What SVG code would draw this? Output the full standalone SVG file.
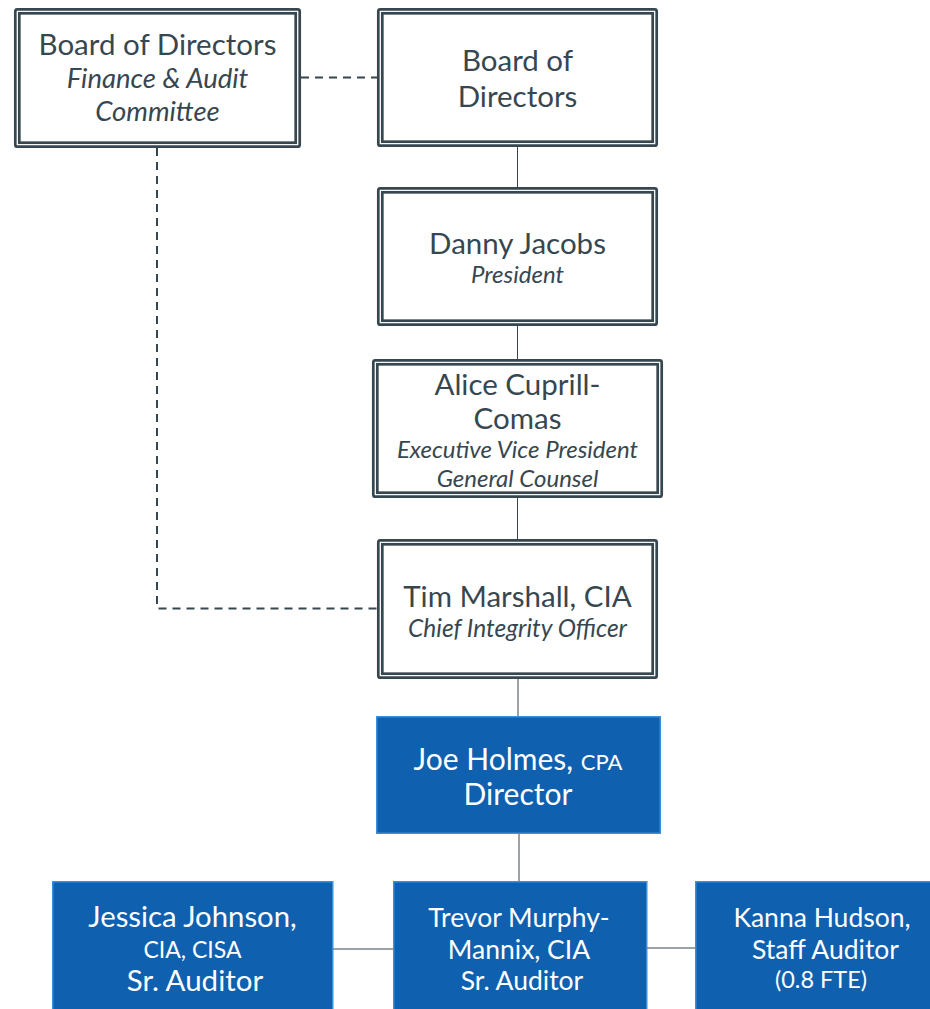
<svg xmlns="http://www.w3.org/2000/svg" width="930" height="1009" viewBox="0 0 930 1009">
<style>
.bo{fill:#fff;stroke:#37474f;stroke-width:2.7}
.bi{fill:none;stroke:#37474f;stroke-width:2.7}
.blue{fill:#1060b0;stroke:#3b8fd9;stroke-width:1.5}
.t{font-family:Lato,"Open Sans","Liberation Sans",sans-serif;fill:#37474f;text-anchor:middle}
.w{font-family:Lato,"Open Sans","Liberation Sans",sans-serif;fill:#fff;text-anchor:middle}
.i{font-style:italic}
.ln{stroke:#37474f;stroke-width:1;fill:none}
.dash{stroke:#37474f;stroke-width:2;stroke-dasharray:8 6;fill:none}
</style>
<g id="connectors">
<path class="dash" d="M301 77.5H377"/>
<path class="dash" d="M157 148V608.5H377"/>
<path class="ln" d="M517.5 147V187M517.5 326V359M517.5 498V539M518 679V716M519 834V881M333 949H393M647 948H695"/>
</g>
<g id="n-audit">
<rect class="bo" x="15.3" y="9.3" width="284.4" height="137.4" rx="2"/>
<rect class="bi" x="19.3" y="13.3" width="276.4" height="129.4"/>
<text class="t" x="157.5" y="55" font-size="29.5">Board of Directors</text>
<text class="t i" x="157.5" y="88" font-size="27.5">Finance &amp; Audit</text>
<text class="t i" x="157.5" y="121" font-size="27.5">Committee</text>
</g>
<g id="n-board">
<rect class="bo" x="378.3" y="9.3" width="278.4" height="136.4" rx="2"/>
<rect class="bi" x="382.3" y="13.3" width="270.4" height="128.4"/>
<text class="t" x="517.5" y="71" font-size="29.5">Board of</text>
<text class="t" x="517.5" y="106.5" font-size="29.5">Directors</text>
</g>
<g id="n-president">
<rect class="bo" x="378.3" y="188.3" width="278.4" height="136.4" rx="2"/>
<rect class="bi" x="382.3" y="192.3" width="270.4" height="128.4"/>
<text class="t" x="517.5" y="254" font-size="29.5">Danny Jacobs</text>
<text class="t i" x="517.5" y="283" font-size="24">President</text>
</g>
<g id="n-evp">
<rect class="bo" x="373.3" y="360.3" width="288.4" height="136.4" rx="2"/>
<rect class="bi" x="377.3" y="364.3" width="280.4" height="128.4"/>
<text class="t" x="517.5" y="395" font-size="29.5">Alice Cuprill-</text>
<text class="t" x="517.5" y="429" font-size="29.5">Comas</text>
<text class="t i" x="517.5" y="458" font-size="24">Executive Vice President</text>
<text class="t i" x="517.5" y="487" font-size="24">General Counsel</text>
</g>
<g id="n-cio">
<rect class="bo" x="378.3" y="540.3" width="278.4" height="137.4" rx="2"/>
<rect class="bi" x="382.3" y="544.3" width="270.4" height="129.4"/>
<text class="t" x="517.5" y="607" font-size="29.5">Tim Marshall, CIA</text>
<text class="t i" x="517.5" y="637" font-size="24.5">Chief Integrity Officer</text>
</g>
<g id="n-director">
<rect class="blue" x="376.75" y="716.75" width="283.5" height="116.5"/>
<text class="w" x="518" y="770" font-size="30">Joe Holmes, <tspan font-size="22">CPA</tspan></text>
<text class="w" x="518" y="805" font-size="30">Director</text>
</g>
<g id="n-jessica">
<rect class="blue" x="52.75" y="881.75" width="280" height="140"/>
<text class="w" x="192.5" y="927" font-size="29.3">Jessica Johnson,</text>
<text class="w" x="192.5" y="958" font-size="23">CIA, CISA</text>
<text class="w" x="195" y="991" font-size="29.5">Sr. Auditor</text>
</g>
<g id="n-trevor">
<rect class="blue" x="393.75" y="881.75" width="253" height="140"/>
<text class="w" x="519" y="927" font-size="26.5">Trevor Murphy-</text>
<text class="w" x="519" y="959" font-size="26.5">Mannix, CIA</text>
<text class="w" x="522" y="990" font-size="26.5">Sr. Auditor</text>
</g>
<g id="n-kanna">
<rect class="blue" x="695.75" y="881.75" width="260" height="140"/>
<text class="w" x="822" y="927" font-size="26.5">Kanna Hudson,</text>
<text class="w" x="825.5" y="959" font-size="26.5">Staff Auditor</text>
<text class="w" x="821" y="988" font-size="23.5">(0.8 FTE)</text>
</g>
</svg>
